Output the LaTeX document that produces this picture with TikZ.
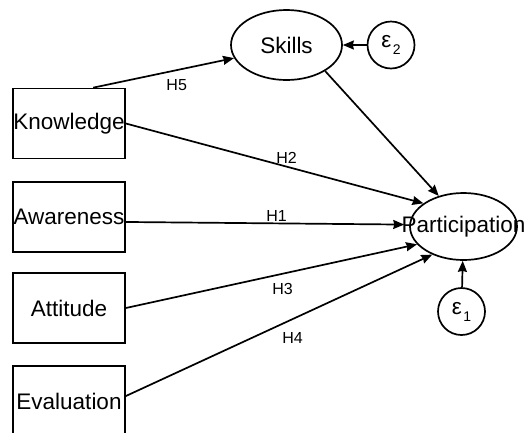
\documentclass[tikz,border=0pt]{standalone}
\usepackage{fontspec}
\setmainfont{Liberation Sans}
\usetikzlibrary{shapes.geometric,arrows.meta}

\begin{document}
\begin{tikzpicture}[x=1pt,y=-1pt,line width=1.7pt,
		>={Stealth[length=11pt,width=9pt,inset=1pt]},
		obs/.style={draw,rectangle,minimum width=112pt,minimum height=70pt,inner sep=0pt,font=\fontsize{22.5}{26}\selectfont},
		lat/.style={draw,ellipse,inner sep=0pt,font=\fontsize{22.5}{26}\selectfont},
		err/.style={draw,circle,minimum size=47pt,inner sep=0pt,font=\fontsize{22.5}{26}\selectfont},
		hyp/.style={inner sep=0pt,font=\fontsize{16}{19}\selectfont}]
		\useasboundingbox (0,0) rectangle (524,432);
		\node[obs] (know) at (69,123.5) {\makebox[0pt]{Knowledge}};
		\node[obs] (aware) at (69,217) {\makebox[0pt]{Awareness}};
		\node[obs] (att) at (69,308) {Attitude};
		\node[obs] (eval) at (69,401) {Evaluation};
		\node[lat,minimum width=111pt,minimum height=70pt] (skills) at (286.5,45) {Skills};
		\node[lat,minimum width=107pt,minimum height=67pt] (part) at (463.5,226.5) {\makebox[0pt]{Participation}};
		\node[err] (e2) at (391,45) {ε\kern1.5pt\raisebox{-7pt}{\fontsize{14}{14}\selectfont 2}};
		\node[err] (e1) at (461.5,311.5) {ε\kern1.5pt\raisebox{-7pt}{\fontsize{14}{14}\selectfont 1}};
		\draw[->] (know.56) -- (skills.194);
		\draw[->] (know.east) -- (part.150);
		\draw[->,shorten >=5pt] (aware.-5) -- (part.178);
		\draw[->] (att.east) -- (part.201);
		\draw[->] (eval.5) -- (part.222);
		\draw[->] (skills.-34) -- (part.129);
		\draw[->] (e2) -- (skills);
		\draw[->] (e1) -- (part);
		\node[hyp] (h5) at (176.7,85.3) {H5};
		\node[hyp] (h2) at (286.5,157.5) {H2};
		\node[hyp] (h1) at (276.5,216) {H1};
		\node[hyp] (h3) at (282.5,289) {H3};
		\node[hyp] (h4) at (292.5,337.5) {H4};
	\end{tikzpicture}
\end{document}
